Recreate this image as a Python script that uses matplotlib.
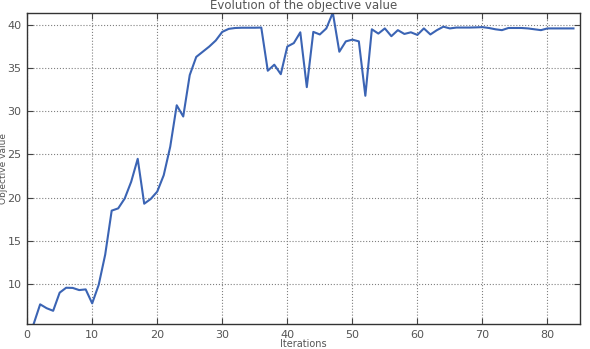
import numpy as np
import matplotlib
matplotlib.use("Agg")
import matplotlib.pyplot as plt

# objective value per iteration
iterations = list(range(1, 85))
objective = [
    5.37, 7.65, 7.2, 6.9, 9.0, 9.57, 9.55, 9.3, 9.38, 7.76,
    9.9, 13.4, 18.5, 18.76, 19.9, 21.85, 24.5, 19.3, 19.85, 20.7,
    22.6, 25.9, 30.7, 29.4, 34.2, 36.3, 36.9, 37.5, 38.2, 39.2,
    39.55, 39.65, 39.68, 39.68, 39.68, 39.7, 34.7, 35.4, 34.3, 37.5,
    37.9, 39.15, 32.8, 39.2, 38.9, 39.6, 41.42, 36.9, 38.1, 38.3,
    38.1, 31.8, 39.5, 39.0, 39.6, 38.7, 39.4, 38.96, 39.15, 38.85,
    39.6, 38.9, 39.4, 39.8, 39.6, 39.7, 39.7, 39.7, 39.72, 39.75,
    39.65, 39.5, 39.4, 39.65, 39.65, 39.65, 39.6, 39.5, 39.4, 39.6,
    39.6, 39.6, 39.6, 39.6,
]

text_col = "#555555"

fig = plt.figure(figsize=(5.9, 3.49), dpi=100)
ax = fig.add_axes([0.046, 0.0716, 0.937, 0.892])

ax.plot(iterations, objective, color="#3b64b4", lw=1.5)
ax.set_xlim(0, 85)
ax.set_ylim(5.37, 41.42)
ax.set_xticks(np.arange(0, 81, 10))
ax.set_yticks(np.arange(10, 41, 5))

ax.grid(True, ls=":", color="#808080", lw=0.8)
ax.tick_params(direction="in", top=True, right=True, labelsize=8,
               labelcolor=text_col, color="#444444", length=4, pad=4)
for sp in ax.spines.values():
    sp.set_color("#333333")
    sp.set_linewidth(1.0)

ax.set_title("Evolution of the objective value", fontsize=8.5, color=text_col, pad=3)
ax.set_xlabel("Iterations", fontsize=7, color=text_col, va="top")
ax.xaxis.set_label_coords(0.5, -0.047)
ax.set_ylabel("Objective value", fontsize=6.5, color=text_col)
ax.yaxis.set_label_coords(-0.034, 0.5)

fig.savefig("out.png", dpi=100)
